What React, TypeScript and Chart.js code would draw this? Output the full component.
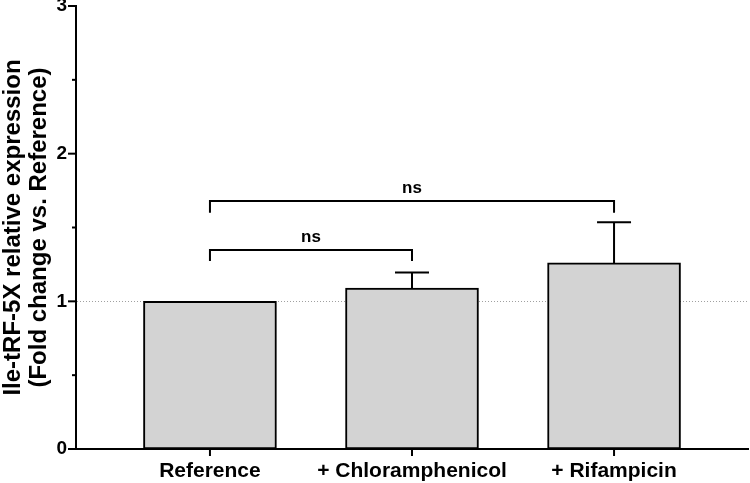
import React, { useEffect, useRef } from 'react';
import { Chart, registerables } from 'chart.js';

Chart.register(...registerables);

const categories = ['Reference', '+ Chloramphenicol', '+ Rifampicin'];
const means = [1.0, 1.09, 1.26];
const errorTops = [1.0, 1.195, 1.535];
const yMajorTicks = [0, 1, 2, 3];
const yMinorTicks = [0.5, 1.5, 2.5];
const bracketFrom = [0, 0];
const bracketTo = [1, 2];
const bracketLevel = [1.348, 1.68];
const bracketDrop = [1.273, 1.6];
const bracketLabel = ['ns', 'ns'];
const bracketLabelLevel = [1.436, 1.767];
const referenceLineValue = 1;
const yTitle = ['Ile-tRF-5X relative expression', '(Fold change vs. Reference)'];

const FONT = '"Liberation Sans", Arial, Helvetica, sans-serif';

const annotatePlugin = {
  id: 'annotate',
  beforeDatasetsDraw(chart: any) {
    const { ctx, chartArea, scales } = chart;
    const y = scales.y;
    const py = Math.round(y.getPixelForValue(referenceLineValue)) + 0.5;
    ctx.save();
    ctx.strokeStyle = '#a0a0a0';
    ctx.lineWidth = 1;
    ctx.setLineDash([1, 2]);
    ctx.beginPath();
    ctx.moveTo(chartArea.left + 1, py);
    ctx.lineTo(chartArea.right, py);
    ctx.stroke();
    ctx.restore();
  },
  afterDatasetsDraw(chart: any) {
    const { ctx, chartArea, scales } = chart;
    const x = scales.x;
    const y = scales.y;
    ctx.save();
    ctx.strokeStyle = '#000';
    ctx.lineWidth = 2;
    ctx.lineCap = 'butt';
    // error bars (upper only)
    categories.forEach((_, i) => {
      if (errorTops[i] <= means[i]) return;
      const px = x.getPixelForValue(i);
      const pTop = y.getPixelForValue(errorTops[i]);
      const pMean = y.getPixelForValue(means[i]);
      ctx.beginPath();
      ctx.moveTo(px, pMean);
      ctx.lineTo(px, pTop);
      ctx.moveTo(px - 17, pTop);
      ctx.lineTo(px + 17, pTop);
      ctx.stroke();
    });
    // significance brackets
    bracketFrom.forEach((f, k) => {
      const x1 = x.getPixelForValue(f);
      const x2 = x.getPixelForValue(bracketTo[k]);
      const yl = y.getPixelForValue(bracketLevel[k]);
      const yd = y.getPixelForValue(bracketDrop[k]);
      ctx.beginPath();
      ctx.moveTo(x1, yd);
      ctx.lineTo(x1, yl);
      ctx.lineTo(x2, yl);
      ctx.lineTo(x2, yd);
      ctx.stroke();
      ctx.fillStyle = '#000';
      ctx.font = `bold 17px ${FONT}`;
      ctx.textAlign = 'center';
      ctx.textBaseline = 'middle';
      ctx.fillText(bracketLabel[k], (x1 + x2) / 2, y.getPixelForValue(bracketLabelLevel[k]));
    });
    // y tick marks
    const left = chartArea.left;
    yMajorTicks.forEach((v) => {
      const p = y.getPixelForValue(v);
      ctx.beginPath();
      ctx.moveTo(left - 8, p);
      ctx.lineTo(left, p);
      ctx.stroke();
    });
    yMinorTicks.forEach((v) => {
      const p = y.getPixelForValue(v);
      ctx.beginPath();
      ctx.moveTo(left - 4, p);
      ctx.lineTo(left, p);
      ctx.stroke();
    });
    // x tick marks
    const bottom = chartArea.bottom;
    categories.forEach((_, i) => {
      const px = x.getPixelForValue(i);
      ctx.beginPath();
      ctx.moveTo(px, bottom);
      ctx.lineTo(px, bottom + 7);
      ctx.stroke();
    });
    ctx.restore();
  },
};

export default function App() {
  const ref = useRef<HTMLCanvasElement | null>(null);
  useEffect(() => {
    if (!ref.current) return;
    const chart = new Chart(ref.current, {
      type: 'bar',
      data: {
        datasets: [
          {
            data: categories.map((_, i) => ({ x: i, y: means[i] })),
            backgroundColor: '#d3d3d3',
            borderColor: '#000',
            borderWidth: 2,
            borderSkipped: false,
            barThickness: 133,
          },
        ],
      },
      options: {
        animation: false,
        responsive: false,
        layout: { padding: { top: 6, right: 2, left: 0, bottom: 0 } },
        plugins: { legend: { display: false }, tooltip: { enabled: false } },
        scales: {
          x: {
            type: 'linear',
            min: -0.663,
            max: 2.663,
            offset: false,
            grid: { display: false, drawTicks: false, offset: false },
            border: { display: true, color: '#000', width: 2 },
            afterBuildTicks: (scale: any) => {
              scale.ticks = categories.map((_, i) => ({ value: i }));
            },
            afterFit: (scale: any) => {
              scale.height = 34;
              scale.paddingLeft = 0;
              scale.paddingRight = 0;
            },
            ticks: {
              autoSkip: false,
              maxRotation: 0,
              minRotation: 0,
              padding: 10,
              color: '#000',
              font: { family: FONT, size: 21, weight: 'bold' },
              callback: (v: any) => categories[v as number] ?? '',
            },
          },
          y: {
            min: 0,
            max: 3,
            grid: { display: false, drawTicks: false },
            border: { display: true, color: '#000', width: 2 },
            afterFit: (scale: any) => {
              scale.width = 76;
              scale.paddingTop = 0;
              scale.paddingBottom = 0;
            },
            afterBuildTicks: (scale: any) => {
              scale.ticks = yMajorTicks.map((v) => ({ value: v }));
            },
            ticks: {
              padding: 9,
              color: '#000',
              font: { family: FONT, size: 19, weight: 'bold' },
            },
            title: {
              display: true,
              text: yTitle,
              color: '#000',
              padding: 0,
              font: { family: FONT, size: 24, weight: 'bold', lineHeight: 1.1 },
            },
          },
        },
      },
      plugins: [annotatePlugin],
    } as any);
    return () => chart.destroy();
  }, []);
  return (
    <div style={{ position: 'fixed', left: 0, top: 0, width: 750, height: 483, background: '#fff' }}>
      <canvas ref={ref} width={750} height={483} style={{ display: 'block' }} />
    </div>
  );
}
